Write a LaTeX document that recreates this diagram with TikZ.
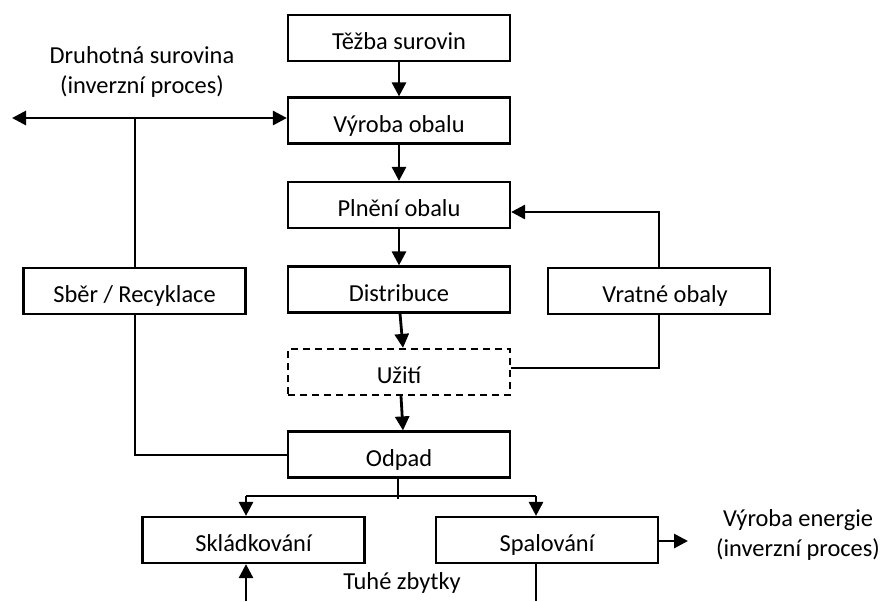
\documentclass[tikz,border=0pt]{standalone}
\usepackage{fontspec}
\setmainfont{Carlito}
\usetikzlibrary{arrows.meta}
\begin{document}
\begin{tikzpicture}[x=0.5pt,y=-0.5pt,
  every node/.style={font=\fontsize{12.2}{15}\selectfont},
  stage/.style={draw, line width=1.1pt, minimum width=111pt, minimum height=23pt, inner sep=0pt,
                text height=11.5pt, text depth=0pt},
  usebox/.style={stage, dash pattern=on 3.5pt off 2.5pt},
  flow/.style={line width=1.4pt, -{Triangle[length=7pt,width=7pt]}},
  twoway/.style={line width=1.4pt, {Triangle[length=7pt,width=7pt]}-{Triangle[length=7pt,width=7pt]}},
  link/.style={line width=1pt},
  caption/.style={align=center, inner sep=0pt}]
\useasboundingbox (0,0) rectangle (886,601);

% main chain
\node[stage] (tezba)  at (399,38)    {Těžba surovin};
\node[stage] (vyroba) at (399,120.5) {Výroba obalu};
\node[stage] (plneni) at (399,205)   {Plnění obalu};
\node[stage] (distr)  at (399,289.5) {Distribuce};
\node[usebox] (uziti) at (399,372)   {Užití};
\node[stage] (odpad)  at (399,454.5) {Odpad};

% side boxes
\node[stage] (sber)   at (134.5,291) {Sběr / Recyklace};
\node[stage] (vratne) at (659,291)   {\hspace*{6pt}Vratné obaly};
\node[stage] (sklad)  at (253.5,540) {Skládkování};
\node[stage] (spal)   at (547,540)   {Spalování};

% captions
\node[caption] (druh)    at (142,72)  {Druhotná surovina\\(inverzní proces)};
\node[caption] (energie) at (798,535) {Výroba energie\\(inverzní proces)};
\node[caption] (tuhe)    at (402,583) {Tuhé zbytky};

% free ends
\coordinate (druhL) at (12,118);
\coordinate (bl) at (246,496);
\coordinate (br) at (536,496);
\coordinate (odpadEnd) at (398,499);
\coordinate (skladIn) at (246,601);
\coordinate (spalOut) at (536,601);
\coordinate (energieIn) at (688,541);

% main flow
\draw[flow] (tezba.south) -- (vyroba.north);
\draw[flow] (vyroba.south) -- (plneni.north);
\draw[flow] (plneni.south) -- (distr.north);
\draw[flow] ([xshift=0.5pt]distr.south) -- ([xshift=2pt]uziti.north);
\draw[flow] ([xshift=1pt]uziti.south) -- ([xshift=2pt]odpad.north);

% secondary raw material
\draw[twoway] (druhL) -- (druhL -| vyroba.west);
\draw[link] (sber.north) -- (sber.north |- druhL);
\draw[link] (sber.south) |- (odpad.west);

% returnable packaging loop
\draw[link] ([yshift=2pt]uziti.east) -| (vratne.south);
\draw[flow] (vratne.north) |- ([yshift=-3.5pt]plneni.east);

% waste treatment
\draw[link] (odpad.south -| odpadEnd) -- (odpadEnd);
\draw[line width=1.4pt] (bl) -- (br);
\draw[flow] (bl) -- (bl |- sklad.north);
\draw[flow] (br) -- (br |- spal.north);
\draw[flow] (skladIn) -- (skladIn |- sklad.south);
\draw[link] (spalOut |- spal.south) -- (spalOut);
\draw[flow] (spal.east |- energieIn) -- (energieIn);
\end{tikzpicture}
\end{document}
